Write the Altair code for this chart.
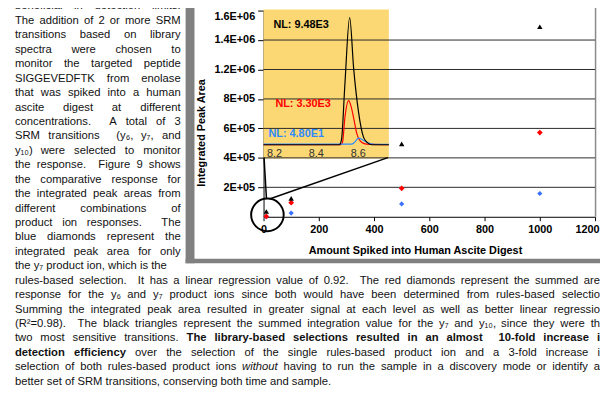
import altair as alt
import pandas as pd

# ---------------- data ----------------
amount_spiked = [10, 100, 500, 1000]
area_y7 = [1.0e3, 2.5e4, 8.7e4, 1.58e5]            # blue diamonds
area_y6_y7 = [2.0e3, 9.6e4, 1.93e5, 5.72e5]        # red diamonds
area_y7_y10 = [3.6e4, 1.25e5, 4.95e5, 1.49e6]      # black triangles

x_tick_values = [0, 200, 400, 600, 800, 1000, 1200]
y_tick_values = [2e5, 4e5, 6e5, 8e5, 1.2e6, 1.4e6, 1.6e6]
y_tick_labels = ["2E+05", "4E+05", "6E+05", "8E+05", "1.2E+06", "1.4E+06", "1.6E+06"]
y_grid_values = [2e5, 4e5, 6e5, 8e5, 1.2e6, 1.4e6]

# inset chromatogram (retention time, relative intensity)
rt_black = [8.148, 8.51, 8.52, 8.536, 8.559, 8.578, 8.601, 8.625, 8.645, 8.664, 8.746]
int_black = [0, 0, 4, 47, 100, 60, 26, 6, 1.5, 0, 0]
rt_red = [8.148, 8.515, 8.525, 8.536, 8.554, 8.566, 8.578, 8.594, 8.617, 8.64, 8.746]
int_red = [0, 0, 2, 21, 34.7, 30, 21, 8.3, 1.8, 0.5, 0]
rt_blue = [8.148, 8.57, 8.585, 8.601, 8.62, 8.64, 8.66, 8.68, 8.746]
int_blue = [0.5, 0.5, 2.5, 5.2, 4, 2, 0.8, 0.4, 0.3]
rt_tick_values = [8.2, 8.4, 8.6]
nl_texts = ["NL: 9.48E3", "NL: 3.30E3", "NL: 4.80E1"]

callout_amount = [14]
callout_area = [1.3e4]

x_title = "Amount Spiked into Human Ascite Digest"
y_title = "Integrated Peak Area"

column_lines = [
    "beneficial in detection limits.",
    "The addition of 2 or more SRM",
    "transitions based on library",
    "spectra were chosen to",
    "monitor the targeted peptide",
    "SIGGEVEDFTK from enolase",
    "that was spiked into a human",
    "ascite digest at different",
    "concentrations.  A total of 3",
    "SRM transitions  (y\u2086, y\u2087, and",
    "y\u2081\u2080) were selected to monitor",
    "the response.  Figure 9 shows",
    "the comparative response for",
    "the integrated peak areas from",
    "different combinations of",
    "product ion responses.  The",
    "blue diamonds represent the",
    "integrated peak area for only",
    "the y\u2087 product ion, which is the",
]
full_lines = [
    [("rules-based selection.  It has a linear regression value of 0.92.  The red diamonds represent the summed are", "n")],
    [("response for the y\u2086 and y\u2087 product ions since both would have been determined from rules-based selectio", "n")],
    [("Summing the integrated peak area resulted in greater signal at each level as well as better linear regressio", "n")],
    [("(R\u00b2=0.98).  The black triangles represent the summed integration value for the y\u2087 and y\u2081\u2080, since they were th", "n")],
    [("two most sensitive transitions. ", "n"), ("The library-based selections resulted in an almost  10-fold increase i", "b")],
    [("detection efficiency", "b"), (" over the selection of the single rules-based product ion and a 3-fold increase i", "n")],
    [("selection of both rules-based product ions ", "n"), ("without", "i"), (" having to run the sample in a discovery mode or identify a", "n")],
    [("better set of SRM transitions, conserving both time and sample.", "n")],
]

# ---------------- layout ----------------
FONT = "Liberation Sans, Arial, Helvetica, sans-serif"
OX, OY = 267, 8          # page position of the plot origin
W, H = 336, 209          # plot area
BODY = 11.4
LINE0, LSTEP = 3.9, 14.63


def px(X):
    return X - OX


def py(Y):
    return Y - OY


# Helvetica metrics (1/1000 em) for justification
REG, BOLD = {}, {}
for tab, groups in (
    (REG, {556: "abdeghnopqu0123456789", 500: "cksvxyzJ", 278: " ftI.,:;/!", 222: "ijl",
           333: "r()-\u2080\u2081\u2086\u2087\u00b2", 833: "mM", 722: "wCDHNRU", 667: "ABEKPSVXY",
           611: "FTZ", 778: "GOQ", 944: "W", 584: "+=", 556.1: "L"}),
    (BOLD, {611: "bdghnopqu", 556: "acekvxys0123456789J", 333: "ft()-:", 278: " ijl.,I", 389: "r",
            889: "m", 778: "wGOQ", 500: "z", 722: "ABCDHKNRU", 667: "EPSVXY", 611.1: "FTZL",
            833: "M", 944: "W", 584: "+"}),
):
    for w, chars in groups.items():
        for c in chars:
            tab[c] = int(w)


def tw(s, style, size):
    tab = BOLD if style == "b" else REG
    return sum(tab.get(c, 556) for c in s) / 1000 * size


def layout_line(segs, y, x0, x1, justify, size=BODY):
    words, pending = [], 0
    for text, style in segs:
        parts = text.split(" ")
        for j, p in enumerate(parts):
            if j > 0:
                pending += 1
            if p == "":
                continue
            words.append([p, style, pending if words else 0])
            pending = 0
    widths = [tw(w, s, size) for w, s, _ in words]
    sp = 0.278 * size
    nsp = sum(n for _, _, n in words)
    natural = sum(widths) + nsp * sp
    extra = (x1 - x0 - natural) / nsp if (justify and nsp) else 0.0
    rows, x = [], x0
    for k, ((w, s, n), wd) in enumerate(zip(words, widths)):
        x += n * (sp + extra)
        if justify and k == len(words) - 1 and k > 0:
            rows.append(dict(x=px(x1), y=py(y), text=w, style=s, align="right"))
        else:
            rows.append(dict(x=px(x), y=py(y), text=w, style=s, align="left"))
        x += wd
    return rows


rows = []
for i, line in enumerate(column_lines):
    rows += layout_line([(line, "n")], LINE0 + i * LSTEP, 15, 183, i < len(column_lines) - 1)
for j, segs in enumerate(full_lines):
    i = len(column_lines) + j
    rows += layout_line(segs, LINE0 + i * LSTEP, 15, 608, j < len(full_lines) - 1)
words_df = pd.DataFrame(rows)

# ---------------- scales ----------------
x_main = alt.Scale(domain=[0, 1200], range=[0, W], nice=False, zero=False)
y_main = alt.Scale(domain=[0, 8e5, 1.2e6, 1.6e6], range=[H, H * 3 / 7, H * 2 / 7, 0], nice=False, zero=False)
x_inset = alt.Scale(domain=[8.148, 8.746], range=[px(267), px(394)], nice=False, zero=False)
y_inset = alt.Scale(domain=[0, 100], range=[py(144), py(15)], nice=False, zero=False)

label_expr = "''"
for v, lab in reversed(list(zip(y_tick_values, y_tick_labels))):
    label_expr = f"datum.value == {v:.0f} ? '{lab}' : ({label_expr})"

last_x = x_tick_values[-1]
x_axis = alt.Axis(orient="bottom", values=x_tick_values, format="d", title=None, grid=False,
                  domainColor="black", domainWidth=1, tickColor="black", tickSize=4,
                  labelFont=FONT, labelFontSize=11, labelFontWeight="bold", labelColor="black",
                  labelPadding=3, labelFlush=False, labelOverlap=False,
                  labelAlign={"condition": {"test": f"datum.value == {last_x}", "value": "right"}, "value": "center"},
                  labelOffset={"condition": {"test": f"datum.value == {last_x}", "value": 4}, "value": 0})
y_axis = alt.Axis(orient="left", values=y_tick_values, labelExpr=label_expr, title=None, grid=False,
                  domainColor="black", domainWidth=1, tickColor="black", tickSize=6,
                  labelFont=FONT, labelFontSize=11, labelFontWeight="bold", labelColor="black",
                  labelPadding=3, labelFlush=True, labelOverlap=False)

one = alt.Data(values=[{"k": 1}])


def box(x1, x2, y1, y2, color):
    return alt.Chart(one).mark_rect(color=color).encode(
        x=alt.value(px(x1)), x2=alt.value(px(x2)), y=alt.value(py(y1)), y2=alt.value(py(y2)))


def seg(x1, y1, x2, y2, color="black", width=1.5):
    return alt.Chart(one).mark_rule(color=color, strokeWidth=width).encode(
        x=alt.value(px(x1)), x2=alt.value(px(x2)), y=alt.value(py(y1)), y2=alt.value(py(y2)))


def label(X, Y, text, size, weight="normal", color="black", align="left", angle=0):
    return alt.Chart(one).mark_text(text=text, font=FONT, fontSize=size, fontWeight=weight,
                                    color=color, align=align, baseline="middle", angle=angle).encode(
        x=alt.value(px(X)), y=alt.value(py(Y)))


layers = []
# gray frame around the figure
layers += [box(188, 197, 0, 264, "#808080"), box(188, 608, 259.5, 264, "#808080"),
           seg(603.5, 3, 603.5, 217, "#8a8a8a", 1.5)]

# inset background
layers.append(box(267, 394, 7, 158, "#FBD873"))

# gridlines
grid_df = pd.DataFrame({"area": y_grid_values})
layers.append(alt.Chart(grid_df).mark_rule(color="#2a2a2a", strokeWidth=1).encode(
    y=alt.Y("area:Q", scale=y_main, axis=None), x=alt.value(0), x2=alt.value(W)))

# inset traces
for rt, inten, col in ((rt_red, int_red, "#FF0000"), (rt_blue, int_blue, "#2E8BFF"),
                       (rt_black, int_black, "#000000")):
    d = pd.DataFrame({"rt": rt, "rel": inten})
    layers.append(alt.Chart(d).mark_line(color=col, strokeWidth=1.2, interpolate="monotone").encode(
        x=alt.X("rt:Q", scale=x_inset, axis=None), y=alt.Y("rel:Q", scale=y_inset, axis=None)))
layers.append(alt.Chart(pd.DataFrame({"rt": rt_tick_values})).mark_text(
    font=FONT, fontSize=11, color="#333333", baseline="middle").encode(
    x=alt.X("rt:Q", scale=x_inset, axis=None), y=alt.value(py(153)), text=alt.Text("rt:Q", format=".1f")))
layers += [label(277, 23, nl_texts[0], 11, "bold", "black"),
           label(279, 103, nl_texts[1], 11, "bold", "#FF0000"),
           label(272, 133, nl_texts[2], 11, "bold", "#2E8BFF")]

# callout
layers += [seg(267.5, 157, 270, 199), seg(273, 199, 393, 157)]
layers.append(alt.Chart(pd.DataFrame({"amount": callout_amount, "area": callout_area})).mark_point(
    shape="circle", size=1089, filled=False, color="black", strokeWidth=2, opacity=1).encode(
    x=alt.X("amount:Q", scale=x_main, axis=None), y=alt.Y("area:Q", scale=y_main, axis=None)))

# data points
for vals, shape, col, size, ax in ((area_y7, "diamond", "#3A72FF", 28, True),
                                   (area_y6_y7, "diamond", "#FF0000", 34, False),
                                   (area_y7_y10, "triangle-up", "#000000", 30, False)):
    d = pd.DataFrame({"amount": amount_spiked, "area": vals})
    layers.append(alt.Chart(d).mark_point(shape=shape, filled=True, color=col, size=size, opacity=1).encode(
        x=alt.X("amount:Q", scale=x_main, axis=x_axis if ax else None),
        y=alt.Y("area:Q", scale=y_main, axis=y_axis if ax else None)))

# axis titles
layers += [label(421, 252, x_title, 11, "bold", "black", "center"),
           label(205, 132, y_title, 11, "bold", "black", "center", 270)]

# body text
styles = {"n": ("normal", "normal"), "b": ("bold", "normal"), "i": ("normal", "italic")}
for (st, al), g in words_df.groupby(["style", "align"]):
    fw, fs = styles[st]
    layers.append(alt.Chart(g).mark_text(font=FONT, fontSize=BODY, fontWeight=fw, fontStyle=fs,
                                         color="#111111", align=al, baseline="middle").encode(
        x=alt.X("x:Q", scale=None, axis=None), y=alt.Y("y:Q", scale=None, axis=None), text="text:N"))

chart = alt.layer(*layers).resolve_scale(x="independent", y="independent").properties(
    width=W, height=H,
    padding={"left": OX - 8, "top": OY - 8, "right": 608 - 8 - (OX - 8) - W, "bottom": 394 - 8 - H - (OY - 8)},
    autosize=alt.AutoSizeParams(type="none"),
    background="white",
).configure_view(stroke=None)

chart.save("out.html", embed_options={"renderer": "svg", "actions": False})
